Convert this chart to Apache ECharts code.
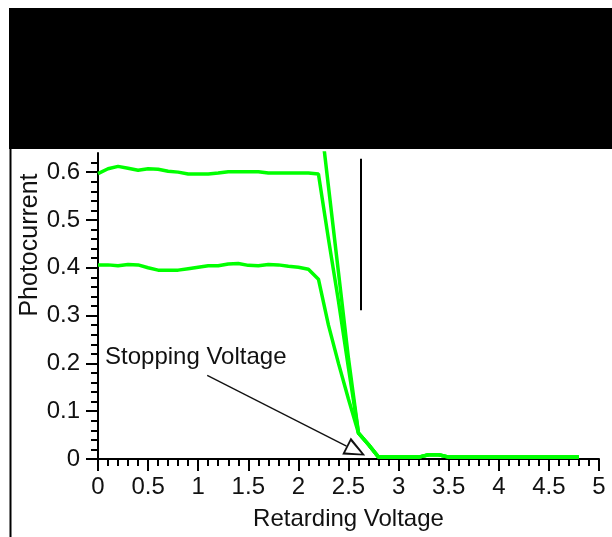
<!DOCTYPE html>
<html>
<head>
<meta charset="utf-8">
<script src="https://cdn.jsdelivr.net/npm/echarts@6/dist/echarts.min.js"></script>
<style>
  html, body { margin: 0; padding: 0; background: #fff; }
  #chart-container { width: 612px; height: 537px; }
</style>
</head>
<body>
<div id="chart-container"></div>
<script>
// retarding voltage (V), one reading every 0.1 V
var voltage = [0, 0.1, 0.2, 0.3, 0.4, 0.5, 0.6, 0.7, 0.8, 0.9,
  1.0, 1.1, 1.2, 1.3, 1.4, 1.5, 1.6, 1.7, 1.8, 1.9,
  2.0, 2.1, 2.2, 2.3, 2.4, 2.5, 2.6, 2.7, 2.8, 2.9,
  3.0, 3.1, 3.2, 3.3, 3.4, 3.5, 3.6, 3.7, 3.8, 3.9,
  4.0, 4.1, 4.2, 4.3, 4.4, 4.5, 4.6, 4.7, 4.8];

// photocurrent, upper run (~0.6)
var currentHigh = [0.597, 0.607, 0.612, 0.608, 0.604, 0.607, 0.606, 0.602, 0.600, 0.596,
  0.596, 0.596, 0.598, 0.601, 0.601, 0.601, 0.601, 0.598, 0.598, 0.598,
  0.598, 0.598, 0.596, 0.46, 0.33, 0.19, 0.054, 0.03, 0.004, 0.004,
  0.004, 0.004, 0.004, 0.009, 0.009, 0.004, 0.004, 0.004, 0.004, 0.004,
  0.004, 0.004, 0.004, 0.004, 0.004, 0.004, 0.004, 0.004, 0.004];

// photocurrent, lower run (~0.4)
var currentLow = [0.406, 0.406, 0.404, 0.407, 0.406, 0.400, 0.395, 0.395, 0.395, 0.398,
  0.401, 0.404, 0.404, 0.408, 0.409, 0.405, 0.404, 0.407, 0.406, 0.403,
  0.401, 0.397, 0.376, 0.28, 0.20, 0.125, 0.054, 0.03, 0.004, 0.004,
  0.004, 0.004, 0.004, 0.009, 0.009, 0.004, 0.004, 0.004, 0.004, 0.004,
  0.004, 0.004, 0.004, 0.004, 0.004, 0.004, 0.004, 0.004, 0.004];

// third run, off scale until it drops in at about 2.2 V
var currentOff = [null, null, null, null, null, null, null, null, null, null,
  null, null, null, null, null, null, null, null, null, null,
  null, null, 0.75, 0.57, 0.39, 0.21, 0.054, 0.03, 0.004, 0.004,
  0.004, 0.004, 0.004, 0.009, 0.009, 0.004, 0.004, 0.004, 0.004, 0.004,
  0.004, 0.004, 0.004, 0.004, 0.004, 0.004, 0.004, 0.004, 0.004];

// major tick values on the current axis
var yTicks = [0, 0.1, 0.2, 0.3, 0.4, 0.5, 0.6];

// annotation anchors, in data units
var labelPoint = [0.07, 0.213];
var arrowFrom = [1.09, 0.175];
var arrowTo = [2.48, 0.027];
var markerFrom = [2.625, 0.311];
var markerTo = [2.625, 0.628];

function pairs(ys) {
  var out = [];
  for (var i = 0; i < voltage.length; i++) {
    if (ys[i] != null) out.push([voltage[i], ys[i]]);
  }
  return out;
}

var font = 'Liberation Sans, Arial, sans-serif';
var green = '#00ff00';
// hollow triangle head; the empty point below moves the base onto the line end
var hollowHead = 'path://M8,0 L16,18 L0,18 Z M8,3.6 L2.7,16.5 L13.3,16.5 Z M8,36 L8.01,36 Z';

var container = document.getElementById('chart-container');
var myChart = echarts.init(container);

myChart.setOption({
  animation: false,
  backgroundColor: '#fff',
  textStyle: { fontFamily: font },
  grid: { left: 98, right: 13, top: 153, bottom: 78 },
  xAxis: {
    type: 'value',
    min: 0,
    max: 5,
    interval: 0.5,
    name: 'Retarding Voltage',
    nameLocation: 'middle',
    nameGap: 48,
    nameMoveOverlap: false,
    nameTextStyle: { color: '#111', fontSize: 24, fontFamily: font },
    splitLine: { show: false },
    axisLine: { lineStyle: { color: '#000', width: 2 } },
    axisTick: { length: 12, lineStyle: { color: '#000', width: 2 } },
    minorTick: { show: true, splitNumber: 5, length: 7, lineStyle: { color: '#000', width: 2 } },
    axisLabel: { color: '#111', fontSize: 24, fontFamily: font, margin: 16 }
  },
  yAxis: {
    type: 'value',
    min: 0,
    max: 0.64,
    interval: 0.1,
    name: 'Photocurrent',
    nameLocation: 'middle',
    nameGap: 55,
    nameMoveOverlap: false,
    nameTextStyle: { color: '#111', fontSize: 25, fontFamily: font, padding: [0, 0, 0, 122] },
    splitLine: { show: false },
    axisLine: { lineStyle: { color: '#000', width: 2 } },
    axisTick: { show: true, length: 12, customValues: yTicks, lineStyle: { color: '#000', width: 2 } },
    minorTick: { show: true, splitNumber: 5, length: 7, lineStyle: { color: '#000', width: 2 } },
    axisLabel: { color: '#111', fontSize: 24, fontFamily: font, margin: 18, showMaxLabel: false }
  },
  series: [
    {
      name: 'low',
      type: 'line',
      data: pairs(currentLow),
      showSymbol: false,
      lineStyle: { color: green, width: 3.5 },
      itemStyle: { color: green }
    },
    {
      name: 'off',
      type: 'line',
      data: pairs(currentOff),
      showSymbol: false,
      lineStyle: { color: green, width: 3.5 },
      itemStyle: { color: green }
    },
    {
      name: 'high',
      type: 'line',
      data: pairs(currentHigh),
      showSymbol: false,
      lineStyle: { color: green, width: 3.5 },
      itemStyle: { color: green },
      markPoint: {
        silent: true,
        symbol: 'circle',
        symbolSize: 0,
        label: {
          show: true,
          position: 'right',
          distance: 0,
          color: '#111',
          fontSize: 24,
          fontFamily: font,
          formatter: 'Stopping Voltage'
        },
        data: [{ coord: labelPoint }]
      },
      markLine: {
        silent: true,
        label: { show: false },
        data: [
          [
            { coord: markerFrom, symbol: 'none', lineStyle: { color: '#000', width: 2, type: 'solid' } },
            { coord: markerTo, symbol: 'none' }
          ],
          [
            { coord: arrowFrom, symbol: 'none', lineStyle: { color: '#111', width: 1.3, type: 'solid' } },
            { coord: arrowTo, symbol: hollowHead, symbolSize: [19, 42] }
          ]
        ]
      }
    }
  ],
  graphic: [
    // black block across the top
    { type: 'rect', left: 9, top: 8, z: 100, shape: { width: 603, height: 141 }, style: { fill: '#000' } },
    // frame line down the left side
    { type: 'line', z: 100, shape: { x1: 10.5, y1: 149, x2: 10.5, y2: 537 }, style: { stroke: '#000', lineWidth: 2 } }
  ]
});
</script>
</body>
</html>
